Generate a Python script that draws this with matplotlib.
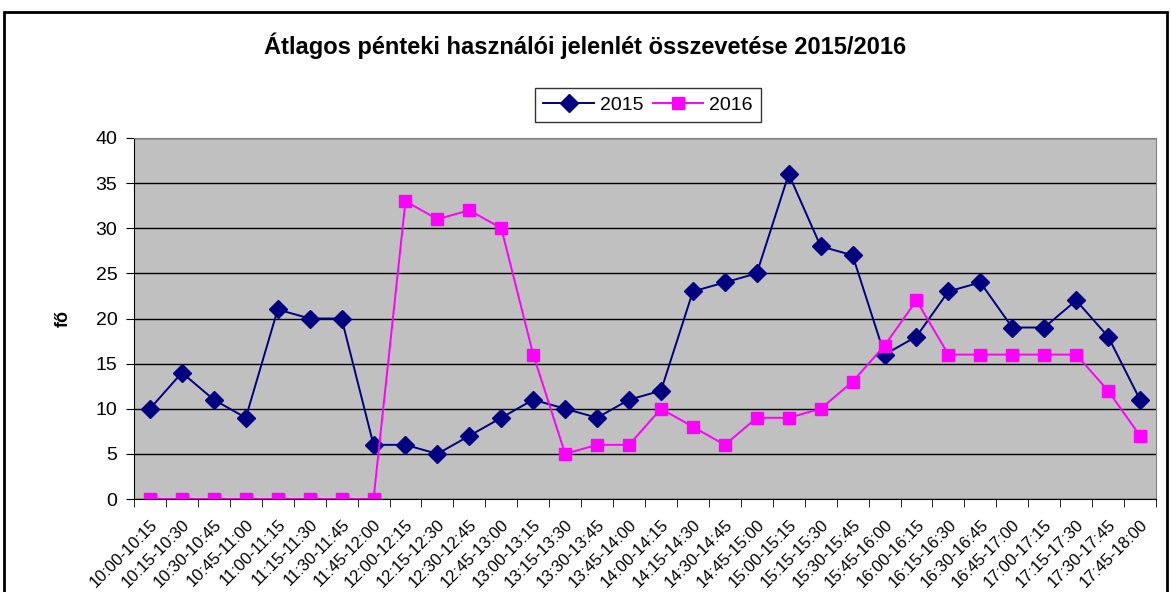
import matplotlib.pyplot as plt
import numpy as np
from matplotlib.patches import Rectangle

plt.rcParams['font.family'] = ['Liberation Sans', 'DejaVu Sans']

labels = ["10:00-10:15", "10:15-10:30", "10:30-10:45", "10:45-11:00", "11:00-11:15",
          "11:15-11:30", "11:30-11:45", "11:45-12:00", "12:00-12:15", "12:15-12:30",
          "12:30-12:45", "12:45-13:00", "13:00-13:15", "13:15-13:30", "13:30-13:45",
          "13:45-14:00", "14:00-14:15", "14:15-14:30", "14:30-14:45", "14:45-15:00",
          "15:00-15:15", "15:15-15:30", "15:30-15:45", "15:45-16:00", "16:00-16:15",
          "16:15-16:30", "16:30-16:45", "16:45-17:00", "17:00-17:15", "17:15-17:30",
          "17:30-17:45", "17:45-18:00"]
y2015 = [10, 14, 11, 9, 21, 20, 20, 6, 6, 5, 7, 9, 11, 10, 9, 11,
         12, 23, 24, 25, 36, 28, 27, 16, 18, 23, 24, 19, 19, 22, 18, 11]
y2016 = [0, 0, 0, 0, 0, 0, 0, 0, 33, 31, 32, 30, 16, 5, 6, 6,
         10, 8, 6, 9, 9, 10, 13, 17, 22, 16, 16, 16, 16, 16, 12, 7]

fig = plt.figure(figsize=(11.71, 5.92), dpi=100)
# outer chart frame (runs off right/bottom like the screenshot)
fig.patches.append(Rectangle((4/1171, -0.05), 1163/1171, 1 - 12/592 + 0.05,
                             transform=fig.transFigure, fill=False,
                             edgecolor='black', linewidth=2))

ax = fig.add_axes([134/1171, 1 - 499/592, 1022/1171, 361/592])
ax.set_facecolor('#c0c0c0')
x = np.arange(len(labels))
ax.plot(x, y2015, color='#000080', marker='D', markersize=9, linewidth=1.4, label='2015')
ax.plot(x, y2016, color='#ff00ff', marker='s', markersize=9, linewidth=1.4, label='2016')

ax.set_xlim(-0.5, len(labels) - 0.5)
ax.set_ylim(0, 40)
ax.set_yticks(range(0, 41, 5))
ax.yaxis.grid(True, color='black', linewidth=1)
ax.set_axisbelow(True)
ax.set_xticks(x)
ax.set_xticklabels(labels, rotation=45, ha='right', rotation_mode='anchor', fontsize=12)
ax.set_xticks(np.arange(-0.5, len(labels)), minor=True)
ax.tick_params(axis='x', which='major', length=0, pad=13)
ax.tick_params(axis='x', which='minor', length=6, color='black')
ax.tick_params(axis='y', length=6, pad=6, labelsize=14, color='black')
for s in ['top', 'right']:
    ax.spines[s].set_color('#808080')
for s in ['left', 'bottom']:
    ax.spines[s].set_color('black')
ax.set_ylabel('fő', fontsize=13, fontweight='bold')
ax.yaxis.set_label_coords(-0.061, 0.5)

fig.text(0.5, 1 - 46/592, 'Átlagos pénteki használói jelenlét összevetése 2015/2016',
         ha='center', va='center', fontsize=17, fontweight='bold')
leg = ax.legend(loc='center', bbox_to_anchor=(648/1171, 1 - 105/592),
                bbox_transform=fig.transFigure, ncol=2, frameon=True, fancybox=False,
                edgecolor='black', fontsize=14, handlelength=2.6, columnspacing=0.5,
                handletextpad=0.3, borderpad=0.4)
leg.get_frame().set_linewidth(1)

fig.savefig('out.png', dpi=100)
